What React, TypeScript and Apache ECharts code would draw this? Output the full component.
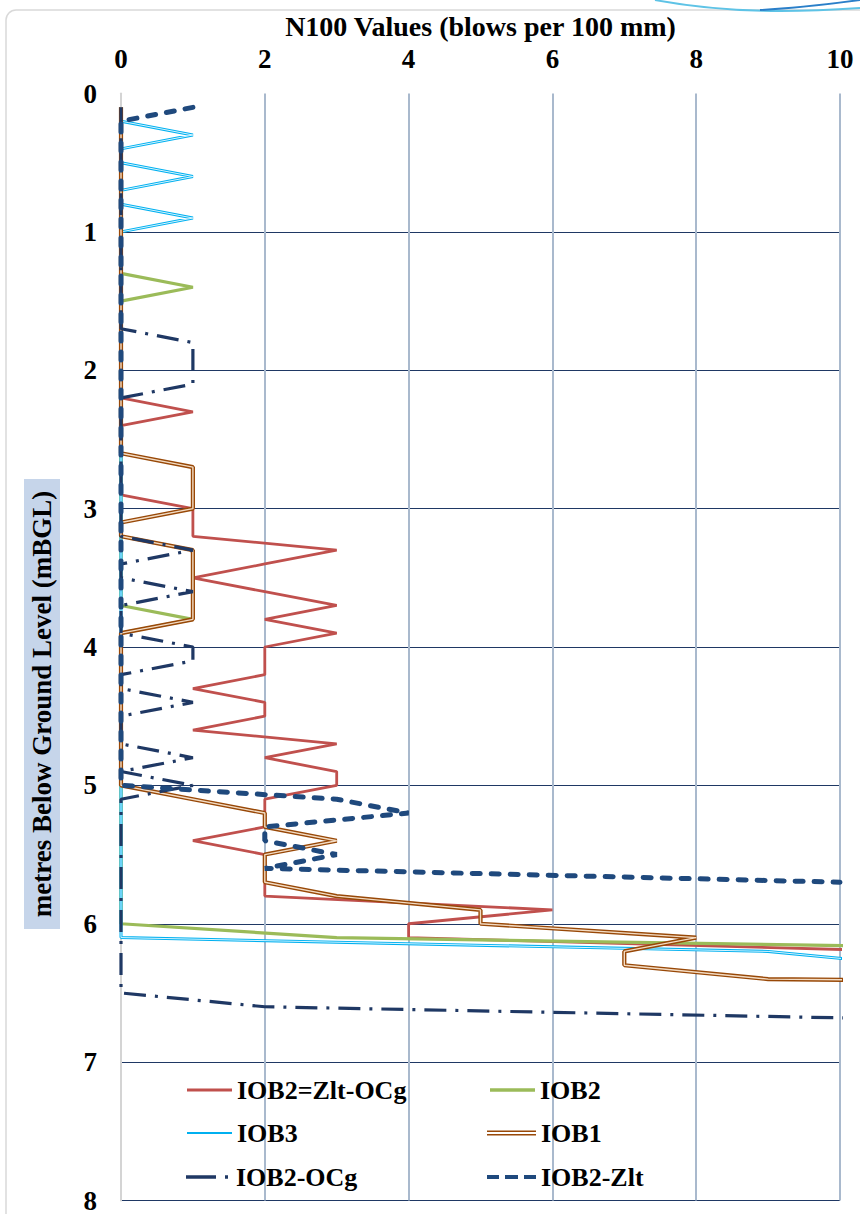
import React, { useEffect, useRef } from "react";
import * as echarts from "echarts";

// Depth (m below ground level) for each reading, 0.1 m steps
const DEPTHS = [
  0.1, 0.2, 0.3, 0.4, 0.5, 0.6, 0.7, 0.8, 0.9, 1.0,
  1.1, 1.2, 1.3, 1.4, 1.5, 1.6, 1.7, 1.8, 1.9, 2.0,
  2.1, 2.2, 2.3, 2.4, 2.5, 2.6, 2.7, 2.8, 2.9, 3.0,
  3.1, 3.2, 3.3, 3.4, 3.5, 3.6, 3.7, 3.8, 3.9, 4.0,
  4.1, 4.2, 4.3, 4.4, 4.5, 4.6, 4.7, 4.8, 4.9, 5.0,
  5.1, 5.2, 5.3, 5.4, 5.5, 5.6, 5.7, 5.8, 5.9, 6.0,
  6.1, 6.2, 6.3, 6.4, 6.5, 6.6, 6.7,
];

// N100 blow counts per series (index i -> DEPTHS[i])
const IOB2_ZLT_OCG = [
  0, 0, 0, 0, 0, 0, 0, 0, 0, 0,
  0, 0, 0, 0, 0, 0, 0, 0, 0, 0,
  0, 0, 1, 0, 0, 0, 0, 0, 0, 1,
  1, 1, 3, 2, 1, 2, 3, 2, 3, 2,
  2, 2, 1, 2, 2, 1, 3, 2, 3, 3,
  2, 2, 2, 1, 2, 2, 2, 2, 6, 4,
  4, 11,
];
const IOB2 = [
  0, 0, 0, 0, 0, 0, 0, 0, 0, 0,
  0, 0, 0, 1, 0, 0, 0, 0, 0, 0,
  0, 0, 0, 0, 0, 0, 0, 0, 0, 0,
  0, 0, 0, 0, 0, 0, 0, 1, 0, 0,
  0, 0, 0, 0, 0, 0, 0, 0, 0, 0,
  0, 0, 0, 0, 0, 0, 0, 0, 0, 0,
  3, 15,
];
const IOB3 = [
  0, 0, 1, 0, 0, 1, 0, 0, 1, 0,
  0, 0, 0, 0, 0, 0, 0, 0, 0, 0,
  0, 0, 0, 0, 0, 0, 0, 0, 0, 0,
  0, 0, 0, 0, 0, 0, 0, 0, 0, 0,
  0, 0, 0, 0, 0, 0, 0, 0, 0, 0,
  0, 0, 0, 0, 0, 0, 0, 0, 0, 0,
  0, 9, 11,
];
const IOB1 = [
  0, 0, 0, 0, 0, 0, 0, 0, 0, 0,
  0, 0, 0, 0, 0, 0, 0, 0, 0, 0,
  0, 0, 0, 0, 0, 0, 1, 1, 1, 1,
  0, 0, 1, 1, 1, 1, 1, 1, 0, 0,
  0, 0, 0, 0, 0, 0, 0, 0, 0, 0,
  1, 2, 2, 3, 2, 2, 2, 3, 5, 5,
  8, 7, 7, 9, 30,
];
const IOB2_OCG = [
  0, 0, 0, 0, 0, 0, 0, 0, 0, 0,
  0, 0, 0, 0, 0, 0, 0, 1, 1, 1,
  1, 0, 0, 0, 0, 0, 0, 0, 0, 0,
  0, 0, 1, 0, 0, 1, 0, 0, 0, 1,
  1, 0, 0, 1, 0, 0, 0, 1, 0, 1,
  0, 0, 0, 0, 0, 0, 0, 0, 0, 0,
  0, 0, 0, 0, 0, 2, 12,
];
const IOB2_ZLT = [
  1, 0, 0, 0, 0, 0, 0, 0, 0, 0,
  0, 0, 0, 0, 0, 0, 0, 0, 0, 0,
  0, 0, 0, 0, 0, 0, 0, 0, 0, 0,
  0, 0, 0, 0, 0, 0, 0, 0, 0, 0,
  0, 0, 0, 0, 0, 0, 0, 0, 0, 0,
  3, 4, 2, 2, 3, 2, 10,
];

const X_TICKS = { min: 0, max: 10, interval: 2 };
const Y_TICKS = { min: 0, max: 8, interval: 1 };

const FONT = '"Liberation Serif", "Times New Roman", serif';

function pairs(values: number[]) {
  return values.map((v, i) => [v, DEPTHS[i]]);
}

const C_RED = "#c0504d";
const C_GREEN = "#9bbb59";
const C_CYAN = "#00b0f0";
const C_BROWN = "#984807";
const C_NAVY1 = "#1f3864";
const C_NAVY2 = "#1f497d";

export default function App() {
  const ref = useRef<HTMLDivElement>(null);

  useEffect(() => {
    if (!ref.current) return;
    const chart = echarts.init(ref.current, undefined, { renderer: "svg" });

    const lineBase = {
      type: "line" as const,
      symbol: "none",
      showSymbol: false,
      clip: true,
      silent: true,
    };

    const legendText = {
      fontFamily: FONT,
      fontWeight: "bold" as const,
      fontSize: 26,
      color: "#000",
    };
    const legendBase = {
      orient: "horizontal" as const,
      padding: 0,
      itemHeight: 14,
      selectedMode: false,
      textStyle: legendText,
      itemStyle: { borderWidth: 0 },
    };

    const option: any = {
      animation: false,
      backgroundColor: "#ffffff",
      grid: { left: 121, right: 20, top: 93.5, bottom: 12.5, containLabel: false },
      xAxis: {
        type: "value",
        position: "top",
        min: X_TICKS.min,
        max: X_TICKS.max,
        interval: X_TICKS.interval,
        name: "N100 Values (blows per 100 mm)",
        nameLocation: "middle",
        nameGap: 43,
        nameTextStyle: { fontFamily: FONT, fontWeight: "bold", fontSize: 28, color: "#000" },
        axisLine: { show: false },
        axisTick: { show: false },
        axisLabel: { fontFamily: FONT, fontWeight: "bold", fontSize: 27, color: "#000", margin: 21 },
        splitLine: { show: true, lineStyle: { color: "#a9b9cd", width: 2 } },
      },
      yAxis: {
        type: "value",
        inverse: true,
        min: Y_TICKS.min,
        max: Y_TICKS.max,
        interval: Y_TICKS.interval,
        axisLine: { show: true, lineStyle: { color: "#d4d4d4", width: 2 } },
        axisTick: { show: false },
        axisLabel: { fontFamily: FONT, fontWeight: "bold", fontSize: 27, color: "#000", margin: 24 },
        splitLine: {
          show: true,
          lineStyle: {
            color: ["rgba(0,0,0,0)", C_NAVY1, C_NAVY1, C_NAVY1, C_NAVY1, C_NAVY1, C_NAVY1, C_NAVY1, C_NAVY1],
            width: 1,
          },
        },
      },
      legend: [
        { ...legendBase, left: 187, top: 1077, itemWidth: 45,
          data: [{ name: "IOB2=Zlt-OCg", icon: "path://M0,0H45V3H0Z", itemStyle: { color: C_RED } }] },
        { ...legendBase, left: 490, top: 1077, itemWidth: 45,
          data: [{ name: "IOB2", icon: "path://M0,0H45V3.5H0Z", itemStyle: { color: C_GREEN } }] },
        { ...legendBase, left: 187, top: 1120, itemWidth: 45,
          data: [{ name: "IOB3", icon: "path://M0,0H45V2H0Z", itemStyle: { color: C_CYAN } }] },
        { ...legendBase, left: 487, top: 1120, itemWidth: 49,
          data: [{ name: "IOB1", icon: "path://M0,0H49V1.6H0Z M0,3.4H49V5H0Z", itemStyle: { color: C_BROWN } }] },
        { ...legendBase, left: 186, top: 1164, itemWidth: 45,
          data: [{ name: "IOB2-OCg", icon: "path://M0,0H30V3.5H0Z M39,0H42V3.5H39Z M42,0H45V0.01H42Z", itemStyle: { color: C_NAVY1 } }] },
        { ...legendBase, left: 487, top: 1164, itemWidth: 49,
          data: [{ name: "IOB2-Zlt", icon: "path://M0,0H12V4H0Z M18,0H31V4H18Z M37,0H49V4H37Z", itemStyle: { color: C_NAVY2 } }] },
      ],
      graphic: [
        {
          type: "rect",
          z: -10,
          shape: { x: 6, y: 10, width: 900, height: 1260, r: 10 },
          style: { fill: "none", stroke: "#d9d9d9", lineWidth: 1.5 },
          silent: true,
        },
        {
          type: "bezierCurve",
          shape: { x1: 655, y1: 0, cpx1: 730, cpy1: 14, cpx2: 800, cpy2: 12, x2: 860, y2: 8 },
          style: { stroke: "#5ec3e6", lineWidth: 2, fill: "none" },
          silent: true,
        },
        {
          type: "bezierCurve",
          shape: { x1: 760, y1: 10, cpx1: 800, cpy1: 8, cpx2: 830, cpy2: 4, x2: 860, y2: 0 },
          style: { stroke: "#2a7fc9", lineWidth: 2, fill: "none" },
          silent: true,
        },
        {
          type: "rect",
          shape: { x: 24, y: 479, width: 36, height: 450 },
          style: { fill: "#c6d5ea" },
          silent: true,
        },
        {
          type: "text",
          x: 42,
          y: 704,
          rotation: Math.PI / 2,
          style: {
            text: "metres Below Ground Level (mBGL)",
            font: 'bold 27px "Liberation Serif", "Times New Roman", serif',
            fill: "#000",
            align: "center",
            verticalAlign: "middle",
            textAlign: "center",
            textVerticalAlign: "middle",
          },
          silent: true,
        },
      ],
      series: [
        { ...lineBase, name: "IOB2=Zlt-OCg", data: pairs(IOB2_ZLT_OCG),
          itemStyle: { color: C_RED }, lineStyle: { color: C_RED, width: 2.8 } },
        { ...lineBase, name: "IOB2", data: pairs(IOB2),
          itemStyle: { color: C_GREEN }, lineStyle: { color: C_GREEN, width: 3.2 } },
        { ...lineBase, name: "IOB3", data: pairs(IOB3),
          itemStyle: { color: C_CYAN }, lineStyle: { color: C_CYAN, width: 3 } },
        { ...lineBase, name: "IOB3 inner", data: pairs(IOB3),
          itemStyle: { color: "#d8f5ff" }, lineStyle: { color: "#d8f5ff", width: 1 } },
        { ...lineBase, name: "IOB1", data: pairs(IOB1),
          itemStyle: { color: C_BROWN }, lineStyle: { color: C_BROWN, width: 4.2 } },
        { ...lineBase, name: "IOB1 inner", data: pairs(IOB1),
          itemStyle: { color: "#f3dcc4" }, lineStyle: { color: "#f3dcc4", width: 1.4 } },
        { ...lineBase, name: "IOB2-OCg", data: pairs(IOB2_OCG),
          itemStyle: { color: C_NAVY1 },
          lineStyle: { color: C_NAVY1, width: 3.2, type: [22, 9, 3, 9] } },
        { ...lineBase, name: "IOB2-Zlt", data: pairs(IOB2_ZLT),
          itemStyle: { color: C_NAVY2 },
          lineStyle: { color: C_NAVY2, width: 5, type: [8, 11], cap: "round" } },
      ],
    };

    chart.setOption(option);
    return () => {
      chart.dispose();
    };
  }, []);

  return (
    <div
      ref={ref}
      style={{ position: "absolute", left: 0, top: 0, width: 860, height: 1214, background: "#fff" }}
    />
  );
}
